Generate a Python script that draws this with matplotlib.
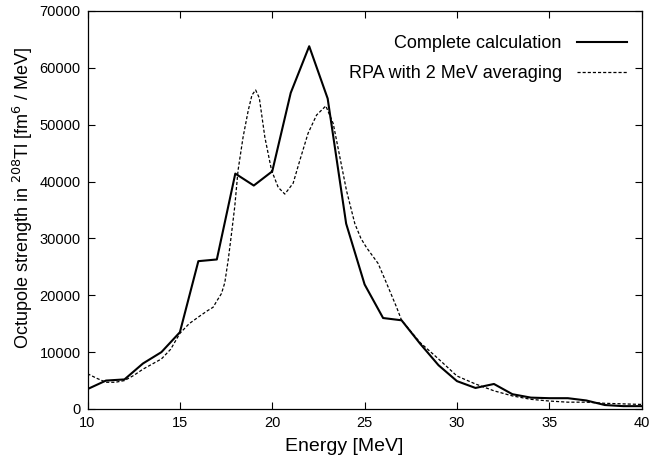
import matplotlib.pyplot as plt
import numpy as np

plt.rcParams['font.family'] = ['Liberation Sans', 'DejaVu Sans']

# complete calculation, integer energies
energy_full = np.arange(10, 41)
strength_full = [3500, 5000, 5200, 8000, 10000, 13500, 26000, 26300, 41400, 39300,
                 41800, 55600, 63800, 54600, 32600, 21900, 16000, 15600, 11500, 7700,
                 4900, 3700, 4400, 2600, 2000, 1900, 1900, 1500, 700, 500, 500]

# RPA with 2 MeV averaging
energy_rpa = [10, 10.5, 11, 11.5, 12, 12.5, 13, 13.5, 14, 14.5, 15, 15.5, 16.1,
              16.5, 16.8, 17.0, 17.25, 17.43, 17.62, 17.8, 17.97, 18.15, 18.42,
              18.7, 18.9, 19.1, 19.3, 19.6, 19.96, 20.32, 20.68, 21.13, 21.49,
              21.94, 22.4, 22.9, 23.3, 23.66, 24.02, 24.47, 24.8, 25.1, 25.73,
              26.19, 26.73, 27, 28, 29, 30, 31, 32, 33, 34, 35, 36, 37, 38, 39, 40]
strength_rpa = [6200, 5400, 4700, 4700, 5000, 5900, 7000, 7900, 8800, 10500, 13300,
                15000, 16400, 17300, 17900, 19000, 20300, 22200, 26300, 31000, 35600,
                42000, 47800, 52500, 55200, 56100, 54700, 47800, 42000, 39000, 37800,
                39700, 43700, 48500, 51700, 53300, 50200, 44300, 38400, 32600, 30000,
                28400, 25600, 22100, 17900, 15600, 11700, 8800, 5800, 4400, 3200,
                2300, 1700, 1400, 1200, 1200, 1000, 900, 800]

fig = plt.figure(figsize=(6.65, 4.58), dpi=100)
ax = fig.add_axes([0.1316, 0.107, 0.8334, 0.869])

ax.plot(energy_full, strength_full, color='black', lw=1.5,
        label='Complete calculation')
ax.plot(energy_rpa, strength_rpa, color='black', lw=0.9, linestyle=(0, (2.5, 1.6)),
        label='RPA with 2 MeV averaging')

ax.set_xlim(10, 40)
ax.set_ylim(0, 70000)
ax.set_xticks(range(10, 41, 5))
ax.set_yticks(range(0, 70001, 10000))
ax.tick_params(direction='in', top=True, right=True, labelsize=10.5, length=5, pad=5)
for s in ax.spines.values():
    s.set_linewidth(0.9)

ax.set_xlabel('Energy [MeV]', fontsize=14)
ax.xaxis.set_label_coords(0.463, -0.072)
ax.set_ylabel('Octupole strength in $^{208}$Tl [fm$^{6}$ / MeV]', fontsize=13)
ax.yaxis.set_label_coords(-0.094, 0.53)

ax.legend(loc='upper right', frameon=False, markerfirst=False, fontsize=13,
          handlelength=2.8, handletextpad=0.83, labelspacing=0.72,
          borderpad=0, borderaxespad=0, bbox_to_anchor=(0.974, 0.94))

fig.savefig('out.png', dpi=100)
